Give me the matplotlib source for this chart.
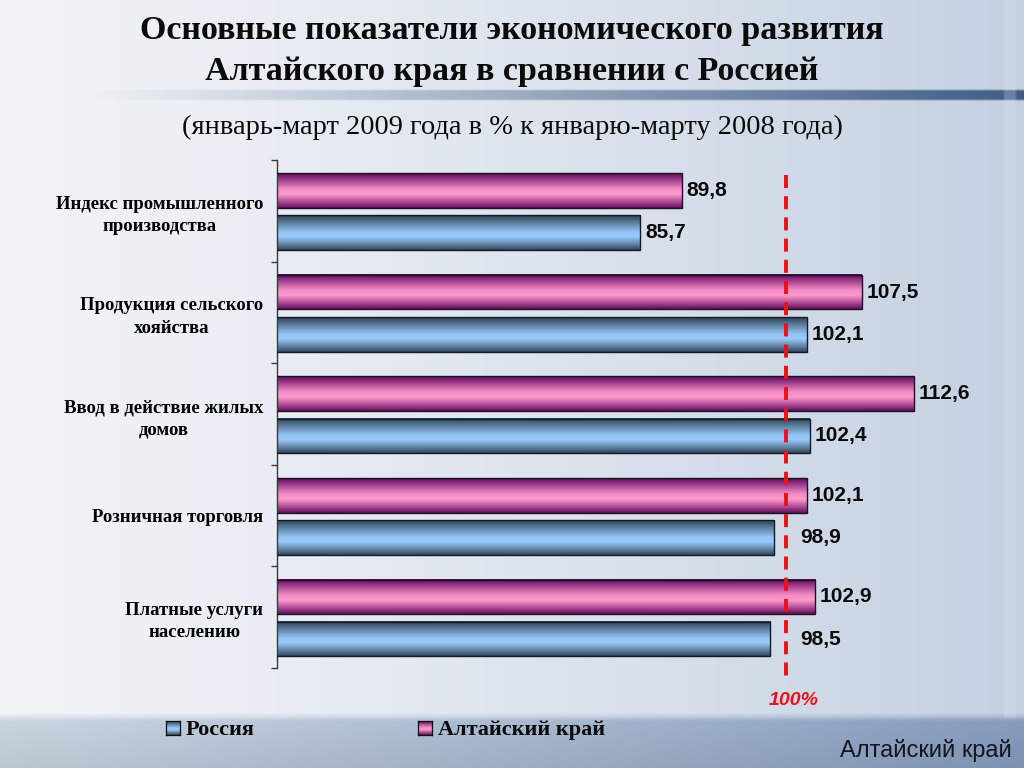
import numpy as np
import matplotlib
matplotlib.use('Agg')
import matplotlib.pyplot as plt
from matplotlib.colors import LinearSegmentedColormap, to_rgb

# ---------------- data ----------------
categories = ["Индекс промышленного\nпроизводства",
              "Продукция сельского\nхояйства",
              "Ввод в действие жилых\nдомов",
              "Розничная торговля",
              "Платные услуги\nнаселению"]
altai = [89.8, 107.5, 112.6, 102.1, 102.9]
russia = [85.7, 102.1, 102.4, 98.9, 98.5]
series_names = ["Россия", "Алтайский край"]
reference_level = 100
reference_label = "100%"
title_lines = ["Основные показатели экономического развития",
               "Алтайского края в сравнении с Россией"]
subtitle = "(январь-март 2009 года в % к январю-марту 2008 года)"
footer = "Алтайский край"
x_range = (50, 120)

# ---------------- styles ----------------
SERIF = ['Liberation Serif', 'DejaVu Serif']
SANS = ['Liberation Sans', 'DejaVu Sans']
pink_cmap = LinearSegmentedColormap.from_list('pink', [
    (0.0, '#4e0c46'), (0.12, '#8a2a7e'), (0.45, '#f28cc4'),
    (0.6, '#ff9bcd'), (0.86, '#a23d8c'), (1.0, '#5e1254')])
blue_cmap = LinearSegmentedColormap.from_list('blue', [
    (0.0, '#2c3f55'), (0.14, '#4d6985'), (0.48, '#92c3f3'),
    (0.62, '#9acbfd'), (0.86, '#5b7b9b'), (1.0, '#33475d')])

fig = plt.figure(figsize=(10.24, 7.68), dpi=100)

# ---------------- background ----------------
H, W = 384, 512
xx = np.linspace(0, 1, W)[None, :]
yy = np.linspace(0, 1, H)[:, None]
left_c = np.array(to_rgb('#f1f3f7'))
right_c = np.array(to_rgb('#c4d0e1'))
t = np.clip(xx ** 1.3, 0, 1)
bg = left_c[None, None, :] * (1 - t[..., None]) + right_c[None, None, :] * t[..., None]
bg = np.repeat(bg, H, axis=0)
# bottom band (soft top edge)
band_top = 718 / 768
band = np.clip((yy - band_top) / (8 / 768) + 0.5, 0, 1)
b_left = np.array(to_rgb('#cbd5e2'))
b_right = np.array(to_rgb('#869dbf'))
tb = np.clip(xx ** 1.1, 0, 1)
band_col = b_left[None, None, :] * (1 - tb[..., None]) + b_right[None, None, :] * tb[..., None]
band_col = np.repeat(band_col, H, axis=0)
vshade = np.clip((yy - band_top) / (1 - band_top), 0, 1)[..., None]
band_col = band_col * (1 - 0.07 * vshade)
bg = bg * (1 - band[..., None]) + band_col * band[..., None]
# header line under the title
line_mask = ((yy >= 90 / 768) & (yy <= 100 / 768)).astype(float)
la = np.clip((xx - 0.08) / 0.92, 0, 1) ** 1.1
line_col = np.array(to_rgb('#3a5882'))
alpha = (line_mask * la)[..., None] * 0.95
bg = bg * (1 - alpha) + line_col[None, None, :] * alpha
# faint vertical light stripe at right
stripe = ((xx >= 1004 / 1024) & (xx <= 1016 / 1024)).astype(float) * (yy < band_top)
bg = bg * (1 - 0.25 * stripe[..., None]) + 0.25 * stripe[..., None] * np.array([0.88, 0.91, 0.95])

bgax = fig.add_axes([0, 0, 1, 1], zorder=-10)
bgax.imshow(np.clip(bg, 0, 1), extent=[0, 1, 0, 1], aspect='auto', interpolation='bilinear')
bgax.axis('off')

# ---------------- main axes ----------------
ax = fig.add_axes([277 / 1024, 1 - 668 / 768, 712 / 1024, 508 / 768])
ax.patch.set_alpha(0)
y = np.arange(len(categories))
bar_h = 0.34
off_altai, off_russia = -0.2, 0.215

grad = np.linspace(0, 1, 96)
def gradient_bars(bars, cmap):
    img = cmap(grad)[:, None, :]
    for b in bars:
        x0, y0 = b.get_x(), b.get_y()
        w, h = b.get_width(), b.get_height()
        xs = max(x0, x_range[0])
        ax.imshow(img, extent=(xs, x0 + w, y0 + h, y0), origin='upper',
                  aspect='auto', interpolation='bilinear', zorder=2)

bars_a = ax.barh(y + off_altai, altai, height=bar_h, facecolor='none',
                 edgecolor='#1e1028', linewidth=1.0, zorder=3)
bars_r = ax.barh(y + off_russia, russia, height=bar_h, facecolor='none',
                 edgecolor='#141a24', linewidth=1.0, zorder=3)
gradient_bars(bars_a, pink_cmap)
gradient_bars(bars_r, blue_cmap)

ax.set_xlim(*x_range)
ax.set_ylim(len(categories) - 0.5, -0.5)

def label_x(v):
    if reference_level - 5 < v < reference_level:
        return reference_level + 1.0
    return v

for vals, off in ((altai, off_altai), (russia, off_russia)):
    for yi, v in zip(y, vals):
        ax.annotate(f"{v:.1f}".replace('.', ','), (label_x(v), yi + off),
                    xytext=(3.6, 0), textcoords='offset points',
                    ha='left', va='center', fontsize=15, fontweight='bold',
                    family=SANS, color='#0a0a0a', zorder=5)

# reference line
ax.plot([reference_level, reference_level], [-0.35, 4.62], color='#ec1018',
        lw=2.8, linestyle=(0, (3.35, 2.1)), zorder=4, clip_on=False)
ax.text(reference_level + 0.8, 4.82, reference_label, color='#ec1018', fontsize=14,
        fontweight='bold', fontstyle='italic', family=SANS, ha='center', va='center')

# axes styling
for s in ('top', 'right', 'bottom'):
    ax.spines[s].set_visible(False)
ax.spines['left'].set_color('#3a3a3a')
ax.spines['left'].set_linewidth(1.0)
ax.set_xticks([])
ax.set_yticks(y)
ax.set_yticklabels(categories, fontsize=13.5, fontweight='bold', family=SERIF,
                   multialignment='center', linespacing=1.4)
ax.set_yticks(np.arange(-0.5, len(categories)), minor=True)
ax.tick_params(axis='y', which='major', length=0, pad=10)
ax.tick_params(axis='y', which='minor', length=4, width=1, color='#3a3a3a', direction='out')

# ---------------- titles ----------------
fig.text(0.5, 1 - 39 / 768, title_lines[0], ha='center', va='baseline', fontsize=24.5,
         fontweight='bold', family=SERIF, color='#0a0a0a')
fig.text(0.5, 1 - 80 / 768, title_lines[1], ha='center', va='baseline', fontsize=24.5,
         fontweight='bold', family=SERIF, color='#0a0a0a')
fig.text(0.5, 1 - 134 / 768, subtitle, ha='center', va='baseline', fontsize=20.5,
         family=SERIF, color='#0a0a0a')

# ---------------- legend ----------------
legend_items = [(series_names[0], blue_cmap, 166), (series_names[1], pink_cmap, 418)]
for name, cmap, px in legend_items:
    lax = fig.add_axes([px / 1024, 1 - 735 / 768, 14 / 1024, 14 / 768])
    lax.imshow(cmap(grad)[:, None, :], aspect='auto', interpolation='bilinear')
    lax.set_xticks([]); lax.set_yticks([])
    for s in lax.spines.values():
        s.set_color('#101010'); s.set_linewidth(0.9)
    fig.text((px + 20) / 1024, 1 - 735 / 768, name, ha='left', va='baseline',
             fontsize=16, fontweight='bold', family=SERIF, color='#0a0a0a')

fig.text(1012 / 1024, 1 - 757 / 768, footer, ha='right', va='baseline', fontsize=17,
         family=SANS, color='#15151f')

fig.savefig('out.png', dpi=100)
